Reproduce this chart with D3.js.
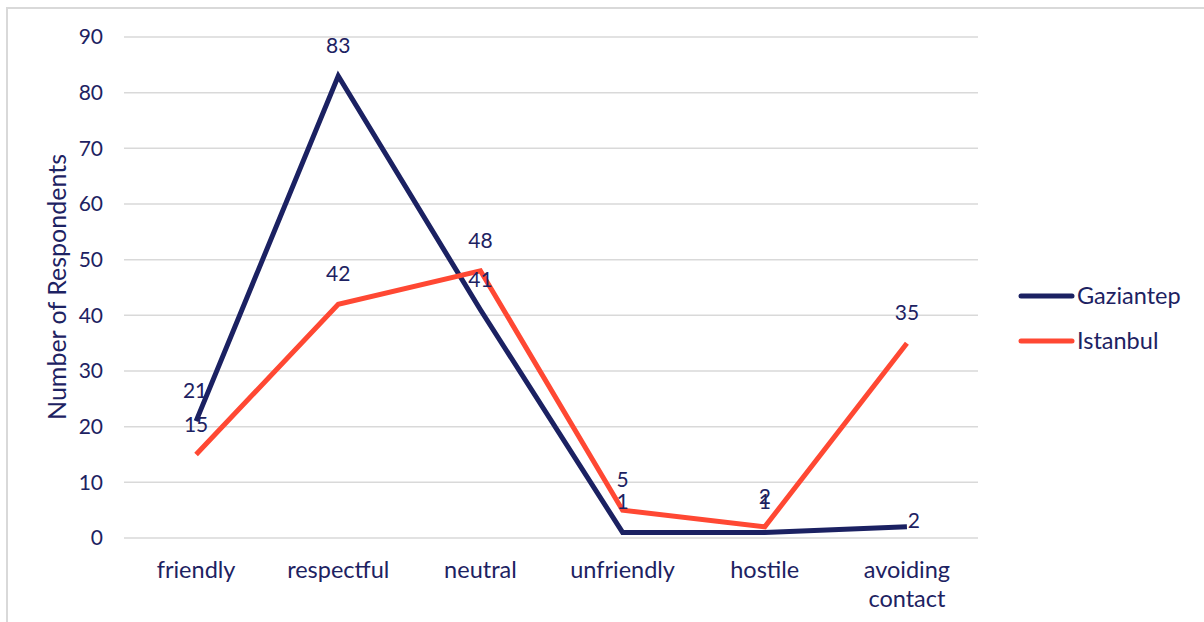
<!DOCTYPE html>
<meta charset="utf-8">
<style>
body { margin: 0; background: #fff; }
svg text { font-family: Lato, "Open Sans", sans-serif; fill: #1d2262; }
.grid line { stroke: #d9d9d9; stroke-width: 1.5px; }
</style>
<body>
<script src="https://d3js.org/d3.v7.min.js"></script>
<script>
var categories = ["friendly", "respectful", "neutral", "unfriendly", "hostile", "avoiding contact"];
var gaziantep = [21, 83, 41, 1, 1, 2];
var istanbul = [15, 42, 48, 5, 2, 35];
var yTicks = [0, 10, 20, 30, 40, 50, 60, 70, 80, 90];
var seriesNames = ["Gaziantep", "Istanbul"];
var seriesColors = ["#1b2162", "#ff4833"];

var width = 1204, height = 622;
var margin = {left: 125, right: 226, top: 37, bottom: 84};

var svg = d3.select("body").append("svg")
  .attr("width", width)
  .attr("height", height);

// outer frame
svg.append("rect")
  .attr("x", 7).attr("y", 8)
  .attr("width", width + 10).attr("height", height + 10)
  .attr("fill", "none")
  .attr("stroke", "#d9d9d9")
  .attr("stroke-width", 2);

var x = d3.scaleBand()
  .domain(categories)
  .range([margin.left, width - margin.right]);

var y = d3.scaleLinear()
  .domain([0, 90])
  .range([height - margin.bottom, margin.top]);

// gridlines
svg.append("g").attr("class", "grid")
  .selectAll("line")
  .data(yTicks)
  .enter().append("line")
  .attr("x1", margin.left - 1)
  .attr("x2", width - margin.right)
  .attr("y1", function(d) { return y(d); })
  .attr("y2", function(d) { return y(d); });

// y axis
var yAxis = svg.append("g")
  .attr("transform", "translate(" + (margin.left - 22) + ",0)")
  .call(d3.axisLeft(y).tickValues(yTicks).tickSize(0).tickPadding(0));
yAxis.select(".domain").remove();
yAxis.selectAll("text")
  .attr("font-size", "21px")
  .attr("font-family", null)
  .attr("fill", null);

// x axis
var xAxis = svg.append("g")
  .attr("transform", "translate(0," + (height - margin.bottom) + ")")
  .call(d3.axisBottom(x).tickSize(0).tickPadding(0));
xAxis.select(".domain").remove();
xAxis.selectAll("text").remove();
xAxis.selectAll(".tick").each(function(d) {
  var words = d === "avoiding contact" ? ["avoiding", "contact"] : [d];
  var t = d3.select(this).append("text")
    .attr("text-anchor", "middle")
    .attr("font-size", "23.5px");
  words.forEach(function(w, i) {
    t.append("tspan").attr("x", 0).attr("y", 40 + i * 29).text(w);
  });
});

// y title
svg.append("text")
  .attr("transform", "translate(66,287) rotate(-90)")
  .attr("text-anchor", "middle")
  .attr("font-size", "25px")
  .text("Number of Respondents");

var line = d3.line()
  .x(function(d, i) { return x(categories[i]) + x.bandwidth() / 2; })
  .y(function(d) { return y(d); });

var series = [gaziantep, istanbul];

series.forEach(function(vals, s) {
  svg.append("path")
    .datum(vals)
    .attr("fill", "none")
    .attr("stroke", seriesColors[s])
    .attr("stroke-width", 5)
    .attr("stroke-linejoin", "miter")
    .attr("d", line);
});

// data labels (Gaziantep's last one sits to the right of its point)
var labelShift = [
  [[-1, 0], [0, 0], [0, 0], [0, 0], [0, 0], [7, 24]],
  [[0, 0], [0, 0], [0, 0], [0, 0], [0, 0], [0, 0]]
];
series.forEach(function(vals, s) {
  svg.append("g").selectAll("text")
    .data(vals)
    .enter().append("text")
    .attr("text-anchor", "middle")
    .attr("font-size", "21px")
    .attr("x", function(d, i) { return x(categories[i]) + x.bandwidth() / 2 + labelShift[s][i][0]; })
    .attr("y", function(d, i) { return y(d) - 23 + labelShift[s][i][1]; })
    .text(function(d) { return d; });
});

// legend
var legend = svg.append("g").selectAll("g")
  .data(seriesNames)
  .enter().append("g")
  .attr("transform", function(d, i) { return "translate(1021," + (296 + i * 45) + ")"; });
legend.append("line")
  .attr("x1", 0).attr("x2", 51)
  .attr("stroke", function(d, i) { return seriesColors[i]; })
  .attr("stroke-width", 5)
  .attr("stroke-linecap", "round");
legend.append("text")
  .attr("x", 56).attr("y", 8)
  .attr("font-size", "23.5px")
  .text(function(d) { return d; });
</script>
</body>
